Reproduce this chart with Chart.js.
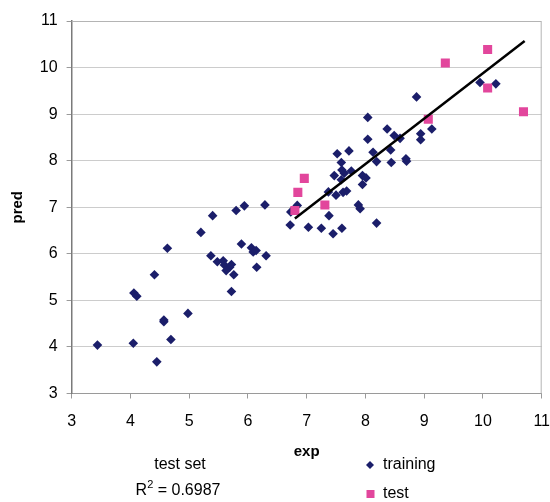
<!DOCTYPE html>
<html>
<head>
<meta charset="utf-8">
<script src="https://cdn.jsdelivr.net/npm/chart.js@4.4.1/dist/chart.umd.min.js"></script>
<style>
  html, body { margin: 0; padding: 0; background: #fff; }
  #wrap { position: relative; width: 550px; height: 502px; }
</style>
</head>
<body>
<div id="wrap"><canvas id="myChart" width="550" height="502"></canvas></div>
<script>
// Values
// =======================================================
var trainingExp = [3.44, 4.05, 4.45, 4.69, 4.57, 4.57, 4.98, 4.06, 4.11, 4.41,
    4.63, 5.20, 5.40, 5.80, 5.94, 6.29, 5.37, 5.48, 5.58, 5.60,
    5.69, 5.72, 5.63, 5.76, 5.72, 5.89, 6.06, 6.09, 6.14, 6.31,
    6.15, 6.73, 6.84, 6.72, 7.03, 7.25, 7.45, 7.60, 8.19, 7.38,
    7.88, 7.91, 7.37, 7.50, 7.62, 7.68, 7.47, 7.64, 7.76, 7.59,
    7.95, 8.01, 7.95, 7.59, 7.60, 7.52, 7.72, 8.13, 8.19, 8.43,
    8.44, 8.70, 8.04, 8.04, 8.37, 8.49, 8.59, 8.94, 8.94, 9.13,
    8.87, 9.95, 10.22, 8.69];
var trainingPred = [4.04, 4.08, 3.68, 4.16, 4.58, 4.54, 4.72, 5.16, 5.09, 5.55,
    6.12, 6.46, 6.82, 6.93, 7.03, 7.05, 5.96, 5.83, 5.85, 5.76,
    5.71, 5.77, 5.64, 5.55, 5.19, 6.21, 6.13, 6.04, 6.07, 5.96,
    5.71, 6.90, 7.04, 6.62, 6.57, 6.55, 6.43, 6.55, 6.66, 6.82,
    7.05, 6.97, 7.33, 7.26, 7.32, 7.35, 7.68, 7.73, 7.78, 7.59,
    7.68, 7.63, 7.49, 7.96, 7.80, 8.15, 8.21, 8.18, 7.98, 8.23,
    7.96, 7.99, 8.93, 8.46, 8.68, 8.54, 8.48, 8.58, 8.45, 8.68,
    9.37, 9.68, 9.65, 8.04];

var testExp = [6.85, 6.80, 6.96, 7.31, 9.07, 9.36, 10.08, 10.08, 10.69];
var testPred = [7.32, 6.93, 7.62, 7.05, 8.89, 10.10, 10.39, 9.56, 9.05];

// fitted line, two ends
var trendExp = [6.80, 10.71];
var trendPred = [6.76, 10.57];

var axisMin = 3;
var axisMax = 11;

var annotationTitle = "test set";
var r2Value = "0.6987";

function toPoints(xs, ys) {
    var pts = [];
    for (var i = 0; i < xs.length; i++) {
        pts.push({ x: xs[i], y: ys[i] });
    }
    return pts;
}

var navy = "#1b1e6a";
var pink = "#e2469c";
var fontName = "'Liberation Sans', Arial, sans-serif";

// Box round the plot, legend and R2 text
// =======================================================
var extras = {
    id: "extras",
    beforeDatasetsDraw: function (chart) {
        var a = chart.chartArea;
        var ctx = chart.ctx;
        ctx.save();
        ctx.strokeStyle = "#b4b4b4";
        ctx.lineWidth = 1;
        ctx.beginPath();
        ctx.moveTo(a.left, a.top + 0.5);
        ctx.lineTo(a.right - 0.5, a.top + 0.5);
        ctx.lineTo(a.right - 0.5, a.bottom);
        ctx.stroke();
        ctx.restore();
    },
    afterDraw: function (chart) {
        var ctx = chart.ctx;
        ctx.save();
        ctx.fillStyle = "#000";
        ctx.font = "16px " + fontName;
        ctx.textBaseline = "middle";
        ctx.textAlign = "center";
        ctx.fillText(annotationTitle, 180, 465);

        // R^2 = ...
        var rest = " = " + r2Value;
        ctx.font = "16px " + fontName;
        var wR = ctx.measureText("R").width;
        var wRest = ctx.measureText(rest).width;
        ctx.font = "11px " + fontName;
        var w2 = ctx.measureText("2").width;
        var start = 178 - (wR + w2 + wRest) / 2;
        ctx.textAlign = "left";
        ctx.font = "16px " + fontName;
        ctx.fillText("R", start, 491);
        ctx.font = "11px " + fontName;
        ctx.fillText("2", start + wR, 485);
        ctx.font = "16px " + fontName;
        ctx.fillText(rest, start + wR + w2, 491);

        // legend
        ctx.fillStyle = navy;
        ctx.beginPath();
        ctx.moveTo(366, 465);
        ctx.lineTo(370, 461);
        ctx.lineTo(374, 465);
        ctx.lineTo(370, 469);
        ctx.closePath();
        ctx.fill();
        ctx.fillStyle = pink;
        ctx.fillRect(366.5, 490, 8, 8);
        ctx.fillStyle = "#000";
        ctx.font = "16px " + fontName;
        ctx.fillText("training", 383, 465);
        ctx.fillText("test", 383, 494);
        ctx.restore();
    }
};

var ctx = document.getElementById("myChart");

var myChart = new Chart(ctx, {
    type: "scatter",
    data: {
        datasets: [{
            label: "trend",
            type: "line",
            data: toPoints(trendExp, trendPred),
            borderColor: "#000",
            borderWidth: 2.5,
            pointRadius: 0,
            fill: false,
            order: 0
        }, {
            label: "test",
            data: toPoints(testExp, testPred),
            pointStyle: "rect",
            pointRadius: 6.4,
            backgroundColor: pink,
            borderColor: pink,
            borderWidth: 0,
            order: 1
        }, {
            label: "training",
            data: toPoints(trainingExp, trainingPred),
            pointStyle: "rectRot",
            pointRadius: 4.8,
            backgroundColor: navy,
            borderColor: navy,
            borderWidth: 0,
            order: 2
        }]
    },
    options: {
        responsive: false,
        animation: false,
        layout: {
            padding: { top: 21, right: 0, left: 0, bottom: 0 }
        },
        plugins: {
            legend: { display: false },
            tooltip: { enabled: false }
        },
        scales: {
            x: {
                type: "linear",
                min: axisMin,
                max: axisMax,
                ticks: {
                    stepSize: 1,
                    color: "#000",
                    padding: 13,
                    font: { family: fontName, size: 16 }
                },
                grid: {
                    drawOnChartArea: false,
                    drawTicks: true,
                    tickLength: 5,
                    color: "#9a9a9a"
                },
                border: { color: "#9a9a9a", width: 1 },
                title: {
                    display: true,
                    text: "exp",
                    color: "#000",
                    font: { family: fontName, size: 15, weight: "bold" },
                    padding: { top: 0, bottom: 41 }
                },
                afterFit: function (scale) {
                    scale.height = 108.5;
                    scale.paddingRight = 8.3;
                    scale.paddingLeft = 0;
                }
            },
            y: {
                type: "linear",
                min: axisMin,
                max: axisMax,
                ticks: {
                    stepSize: 1,
                    color: "#000",
                    padding: 9,
                    font: { family: fontName, size: 16 }
                },
                grid: {
                    color: "#cccccc",
                    tickLength: 5,
                    tickColor: "#9a9a9a"
                },
                border: { color: "#7a7a7a", width: 1.5 },
                title: {
                    display: true,
                    text: "pred",
                    color: "#000",
                    font: { family: fontName, size: 15, weight: "bold" },
                    padding: { top: 9, bottom: 0 }
                },
                afterFit: function (scale) {
                    scale.width = 71.6;
                }
            }
        }
    },
    plugins: [extras]
});
</script>
</body>
</html>
